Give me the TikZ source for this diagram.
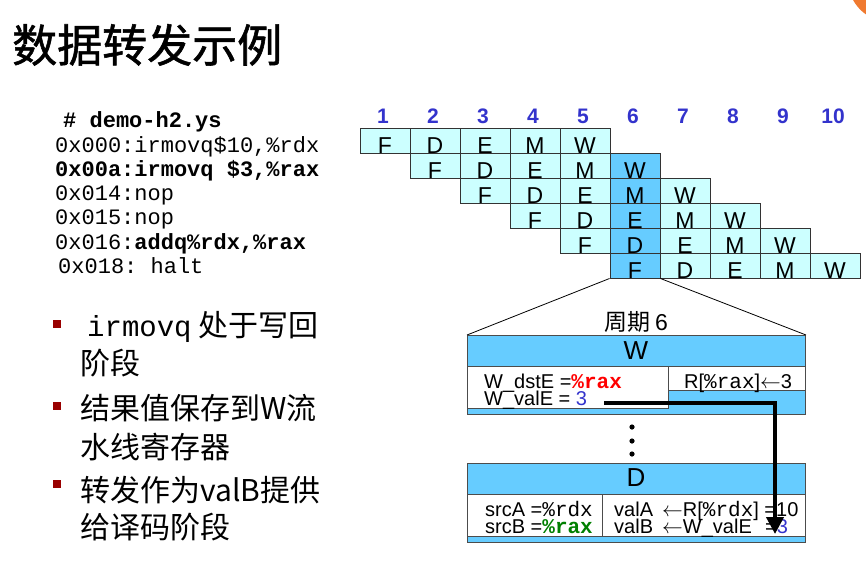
\documentclass[tikz,border=0pt]{standalone}
\usepackage{fontspec}
\setmainfont{Liberation Sans}
\setmonofont{Liberation Mono}
\newfontfamily\cjk{Noto Sans CJK SC}
\newfontfamily\cjkhead[FakeBold=1.2]{Noto Sans CJK SC}
\usepackage{xcolor}
\usetikzlibrary{arrows.meta}
\definecolor{cellblue}{HTML}{CCFFFF}
\definecolor{stageblue}{HTML}{66CCFF}
\definecolor{numblue}{HTML}{3333CC}
\definecolor{bulletred}{HTML}{990000}
\definecolor{cornerorange}{HTML}{F07A30}
\definecolor{raxgreen}{HTML}{008000}
\newcommand{\fs}[1]{\fontsize{#1}{#1}\selectfont}

\begin{document}
\begin{tikzpicture}[
  x=1pt, y=-1pt,
  every node/.style={inner sep=0pt},
  stagecell/.style={draw=black!80, line width=1pt, fill=cellblue,
                    minimum width=50pt, minimum height=25pt,
                    text height=25pt, text depth=0pt, font=\fs{23}},
  hotcell/.style={stagecell, fill=stageblue},
  cyclenum/.style={font=\bfseries\fs{21}, text=numblue},
  codeline/.style={anchor=base west, font=\ttfamily\fs{22}},
  bullet/.style={fill=bulletred, minimum size=8pt},
  bultext/.style={anchor=base west, font=\cjk\fs{30}},
  regbox/.style={draw=black!70, line width=1pt, fill=stageblue, anchor=north west,
                 minimum width=338pt, minimum height=79pt},
  rowbox/.style={draw=black!70, line width=1pt, fill=white, anchor=north west},
  regname/.style={font=\fs{26}},
  tabtext/.style={anchor=base west, font=\fs{20}},
]
\useasboundingbox (0,0) rectangle (866,587);
\begin{scope}
  \clip (0,0) rectangle (866,587);
  \fill[cornerorange] (890,-20) circle[radius=42pt];
\end{scope}

\node[anchor=base west, font=\cjkhead\fs{45}] (title) at (12,62) {数据转发示例};

\node[codeline, font=\ttfamily\bfseries\fs{22}] (l0) at (63,127) {\# demo-h2.ys};
\node[codeline] (l1) at (55,152) {0x000:irmovq\$10,\%rdx};
\node[codeline, font=\ttfamily\bfseries\fs{22}] (l2) at (55,176) {0x00a:irmovq \$3,\%rax};
\node[codeline] (l3) at (55,200) {0x014:nop};
\node[codeline] (l4) at (55,224) {0x015:nop};
\node[codeline] (l5) at (55,249) {0x016:\textbf{addq\%rdx,\%rax}};
\node[codeline] (l6) at (58,273) {0x018: halt};

\node[bullet] (b1) at (57,324) {};
\node[bullet] (b2) at (57,406) {};
\node[bullet] (b3) at (57,484) {};
\node[bultext] (t1) at (87,336) {\ttfamily\fs{29}irmovq\cjk\fs{30} 处于写回};
\node[bultext] (t1b) at (80,374) {阶段};
\node[bultext] (t2) at (80,419) {结果值保存到W流};
\node[bultext] (t2b) at (80,458) {水线寄存器};
\node[bultext] (t3) at (80,501) {转发作为valB提供};
\node[bultext] (t3b) at (80,538) {给译码阶段};

\foreach \col in {1,...,10}
  \node[cyclenum] (n\col) at (333+50*\col,116) {\col};

\foreach \r in {1,...,6}
  \foreach \s [count=\k] in {F,D,E,M,W} {
    \pgfmathtruncatemacro{\col}{\r+\k-1}
    \def\sty{stagecell}
    \ifnum\col=6 \ifnum\r>1 \def\sty{hotcell}\fi\fi
    \node[\sty] (c\r-\col) at (335+50*\col,115.5+25*\r) {\s};
  }

\node[font=\cjk\fs{23}] (cyc) at (636,322) {周期 \fontspec{Liberation Sans}6};

\node[regbox] (wreg) at (467,335) {};
\draw[line width=0.8pt] (c6-6.south west) -- (wreg.north west);
\draw[line width=0.8pt] (c6-6.south east) -- (wreg.north east);
\node[regname] (wname) at (636,351) {W};
\node[rowbox, minimum width=201pt, minimum height=42pt] (wleft) at (467,366) {};
\node[rowbox, minimum width=137pt, minimum height=24pt] (wright) at (668,366) {};
\node[tabtext] (dste) at (484,388)
  {W\_dstE =\textcolor{red}{\ttfamily\bfseries\fs{21}\%rax}};
\node[tabtext] (vale) at (484,405) {W\_valE = \textcolor{numblue}{3}};
\node[tabtext] (wrax) at (684,388) {R[{\ttfamily\fs{21}\%rax}]$\leftarrow$3};

\fill (632,427) circle[radius=2.6pt];
\fill (632,441) circle[radius=2.6pt];
\fill (632,454) circle[radius=2.6pt];

\node[regbox] (dreg) at (467,463) {};
\node[regname] (dname) at (636,478) {D};
\node[rowbox, minimum width=338pt, minimum height=42pt] (drow) at (467,494) {};
\draw[draw=black!70, line width=1pt] (602,494) -- (602,536);
\node[tabtext] (srca) at (485,516) {srcA =\ttfamily\fs{21}\%rdx};
\node[tabtext] (srcb) at (485,533)
  {srcB =\textcolor{raxgreen}{\ttfamily\bfseries\fs{21}\%rax}};
\node[tabtext] (vala) at (614,516) {valA};
\node[tabtext] (valb) at (614,533) {valB};
\node[tabtext] (rdxv) at (662,516) {$\leftarrow$R[{\ttfamily\fs{21}\%rdx}] =10};
\node[tabtext] (wvalv) at (662,533) {$\leftarrow$W\_valE};
\node[tabtext] (valbeq) at (765,533) {=\textcolor{numblue}{3}};

\coordinate (fwdstart) at (604,403);
\coordinate (fwdend) at (775,534);
\draw[line width=4pt, -{Triangle[length=17pt,width=17pt]}] (fwdstart) -| (fwdend);
\end{tikzpicture}
\end{document}
